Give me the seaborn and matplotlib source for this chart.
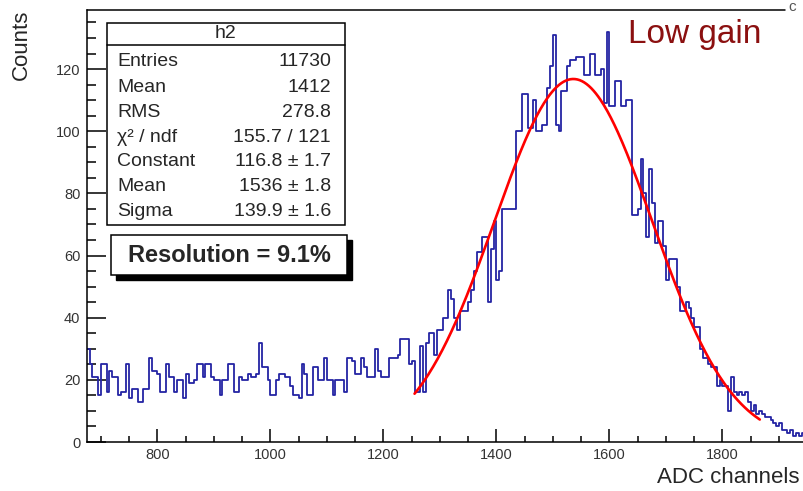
import matplotlib
matplotlib.use("Agg")
import matplotlib.pyplot as plt
from matplotlib.patches import Rectangle
from matplotlib.lines import Line2D
from matplotlib.ticker import MultipleLocator
import numpy as np
import pandas as pd
import seaborn as sns

# histogram h2: 5-channel bins starting at ADC 675
bin_start = 675
bin_width = 5
counts = [
    30, 25, 21, 21, 15, 25, 25, 16, 23, 21,
    21, 15, 16, 16, 25, 14, 17, 17, 13, 13,
    17, 17, 27, 23, 23, 22, 16, 16, 25, 21,
    21, 16, 20, 20, 14, 22, 19, 19, 20, 25,
    25, 21, 25, 25, 21, 20, 20, 15, 20, 20,
    25, 25, 16, 16, 21, 20, 20, 22, 21, 21,
    22, 32, 24, 24, 20, 15, 15, 20, 22, 22,
    21, 21, 18, 15, 15, 14, 25, 22, 15, 15,
    24, 24, 20, 20, 27, 20, 20, 15, 20, 20,
    20, 16, 27, 27, 26, 22, 22, 27, 24, 21,
    21, 21, 30, 23, 21, 21, 21, 27, 27, 27,
    28, 33, 33, 33, 25, 26, 16, 16, 31, 16,
    32, 35, 35, 28, 36, 36, 40, 40, 49, 46,
    40, 36, 42, 42, 42, 45, 49, 55, 61, 61,
    66, 66, 45, 62, 71, 52, 55, 75, 75, 75,
    75, 75, 100, 100, 112, 112, 101, 101, 110, 100,
    100, 102, 102, 114, 121, 131, 102, 100, 113, 113,
    121, 123, 123, 124, 124, 124, 118, 118, 125, 125,
    118, 118, 120, 109, 132, 108, 108, 116, 116, 108,
    108, 110, 110, 73, 73, 75, 91, 80, 66, 88,
    77, 64, 71, 71, 63, 52, 59, 59, 59, 50,
    42, 42, 45, 43, 40, 37, 37, 30, 27, 27,
    25, 24, 24, 18, 20, 18, 18, 10, 21, 16,
    15, 16, 15, 16, 13, 10, 12, 9, 10, 9,
    8, 8, 7, 6, 5, 6, 4, 4, 3, 4,
    2, 3, 2, 3, 2, 1, 2, 1, 1, 2,
    1, 0, 1, 1, 0,
]

# gaussian fit parameters and range
fit_constant = 116.8
fit_mean = 1536.0
fit_sigma = 139.9
fit_lo, fit_hi = 1255, 1866

x_tick_values = [800, 1000, 1200, 1400, 1600, 1800]
stats_labels = ["Entries", "Mean", "RMS", "χ² / ndf", "Constant", "Mean", "Sigma"]
stats_values = ["11730", "1412", "278.8", "155.7 / 121", "116.8 ± 1.7", "1536 ± 1.8", "139.9 ± 1.6"]
hist_name = "h2"
resolution_text = "Resolution = 9.1%"
gain_text = "Low gain"

W, H = 804, 491


def fx(px):
    return px / W


def fy(py):
    return 1 - py / H


sns.set_style("white")
plt.rcParams["font.family"] = ["Liberation Sans", "DejaVu Sans"]

fig = plt.figure(figsize=(W / 100, H / 100), dpi=100)
ax = fig.add_axes([fx(87.4), fy(442), (835.5 - 87.4) / W, (442 - 10) / H])

n_bins = len(counts)
df = pd.DataFrame({"adc": bin_start + bin_width * (np.arange(n_bins) + 0.5), "n": counts})
sns.histplot(data=df, x="adc", weights="n", binwidth=bin_width,
             binrange=(bin_start, bin_start + bin_width * n_bins),
             element="step", fill=False, color="#2424a4", linewidth=1.3, ax=ax)

xf = np.linspace(fit_lo, fit_hi, 300)
fit_df = pd.DataFrame({"adc": xf,
                       "y": fit_constant * np.exp(-0.5 * ((xf - fit_mean) / fit_sigma) ** 2)})
sns.lineplot(data=fit_df, x="adc", y="y", color="#ff0000", linewidth=1.9, ax=ax)

ax.set_xlim(676, 2000)
ax.set_ylim(0, 139)
ax.set_xlabel("")
ax.set_ylabel("")
ax.set_xticks(x_tick_values)
ax.xaxis.set_minor_locator(MultipleLocator(50))
ax.yaxis.set_major_locator(MultipleLocator(20))
ax.yaxis.set_minor_locator(MultipleLocator(5))
ax.tick_params(axis="both", which="both", bottom=True, left=True, top=False, right=False,
               direction="in", width=1.1, color="black")
ax.tick_params(axis="x", which="major", length=9.4, labelsize=10.5, labelcolor="#333333", pad=4)
ax.tick_params(axis="x", which="minor", length=4.3)
ax.tick_params(axis="y", which="major", length=13.5, labelsize=10.5, labelcolor="#333333", pad=5)
ax.tick_params(axis="y", which="minor", length=6.5)
for side in ["top", "right"]:
    ax.spines[side].set_visible(False)
for side in ["left", "bottom"]:
    ax.spines[side].set_linewidth(1.1)
    ax.spines[side].set_color("black")

# frame top line (cut at the right edge in the original)
fig.add_artist(Line2D([fx(87.4), fx(785)], [fy(10), fy(10)], color="black", lw=1.1))
fig.text(fx(788), fy(7), "c", fontsize=11, color="#555555", va="center", ha="left")

fig.text(fx(21), fy(10), "Counts", rotation=90, ha="center", va="top", fontsize=16)
fig.text(fx(800), fy(488), "ADC channels", ha="right", va="bottom", fontsize=16)
fig.text(fx(628), fy(35), gain_text, ha="left", va="center", fontsize=24, color="#8b1010")

# stats box
fig.add_artist(Rectangle((fx(107), fy(225)), (345 - 107) / W, (225 - 23) / H,
                         transform=fig.transFigure, facecolor="white", edgecolor="black", lw=1.1))
fig.add_artist(Line2D([fx(107), fx(345)], [fy(45), fy(45)], color="black", lw=1.1))
fig.text(fx(226), fy(34), hist_name, ha="center", va="center", fontsize=14)
for k, (lab, val) in enumerate(zip(stats_labels, stats_values)):
    y = fy(62 + 25 * k)
    fig.text(fx(117), y, lab, ha="left", va="center", fontsize=14)
    fig.text(fx(331), y, val, ha="right", va="center", fontsize=14)

# resolution box with shadow
fig.add_artist(Rectangle((fx(116), fy(280)), (347 - 111) / W, (275 - 235) / H,
                         transform=fig.transFigure, facecolor="black", edgecolor="black", lw=1))
fig.add_artist(Rectangle((fx(111), fy(275)), (347 - 111) / W, (275 - 235) / H,
                         transform=fig.transFigure, facecolor="white", edgecolor="black", lw=1.1))
fig.text(fx(229), fy(256), resolution_text, ha="center", va="center", fontsize=17, fontweight="bold")

fig.savefig("out.png", dpi=100)
